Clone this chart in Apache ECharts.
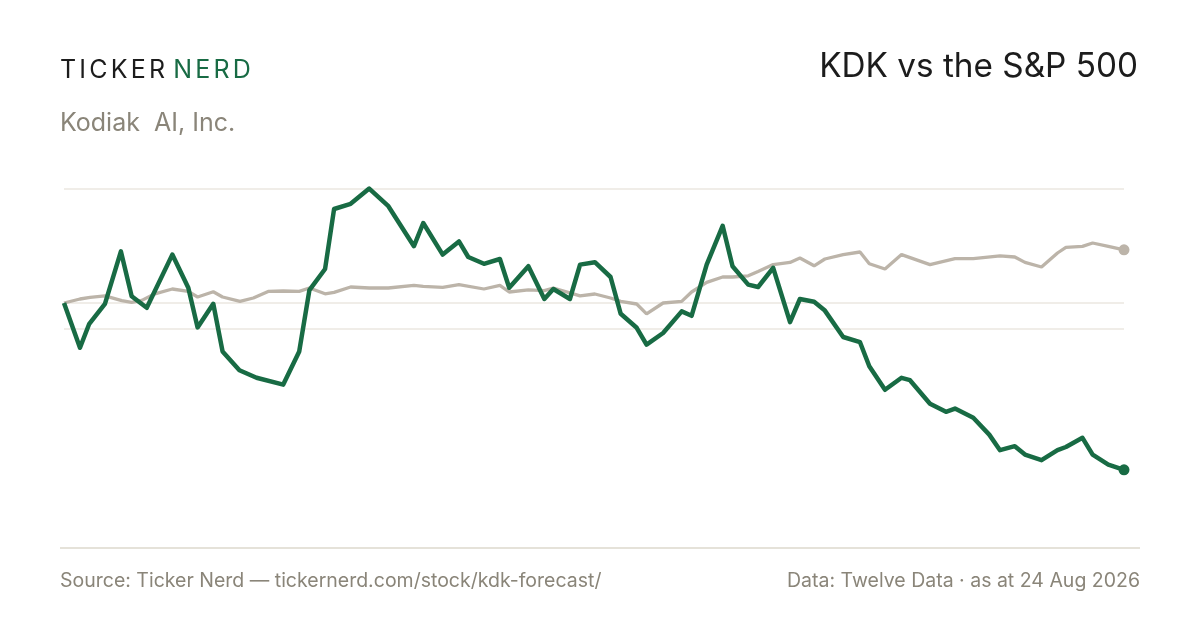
<!DOCTYPE html>
<html>
<head>
<meta charset="utf-8">
<script src="https://cdn.jsdelivr.net/npm/echarts@6/dist/echarts.min.js"></script>
<style>
    html, body { margin: 0; padding: 0; background: #fff; }
    #chart { width: 1200px; height: 630px; }
</style>
</head>
<body>
<div id="chart"></div>
<script>
// days since start, price rebased to 100 on day 0
var kdkDays = [0, 5.5, 8.7, 14.1, 19.6, 23.3, 28.5, 37.3, 42.8, 46, 51.4, 54.6, 60.4, 66.3, 75.5,
    81, 84.5, 89.9, 93, 98.7, 105.1, 111.7, 120.5, 123.7, 130.4, 136, 139.2, 144.6, 150.1, 153.3,
    159.9, 165.4, 168.5, 174.2, 177.7, 182.8, 188.2, 191.7, 197.2, 200.6, 206.3, 212.7, 216.1, 221.3,
    226.8, 230.2, 235.6, 239, 244.2, 250, 253.4, 258.3, 262, 268.3, 274.1, 277.3, 282.7, 288.4, 291.3,
    298.2, 303.7, 306.8, 313.1, 318.6, 322.3, 327.4, 330.9, 336.6, 342.1, 345, 350.7, 354.2, 359.6, 365];
var kdkIndex = [100, 88.8, 94.8, 99.8, 112.9, 101.7, 98.8, 112.1, 103.8, 93.9, 99.8, 87.9, 83.2, 81.3, 79.6,
    87.9, 103.2, 108.5, 123.5, 124.8, 128.6, 124.2, 114.2, 120.0, 112.1, 115.4, 111.5, 109.8, 111.0, 103.8,
    109.2, 101.0, 103.5, 101.0, 109.6, 110.2, 106.5, 97.3, 93.8, 89.6, 92.5, 97.9, 96.8, 109.6,
    119.3, 109.2, 104.6, 104.0, 108.8, 95.2, 101.0, 100.3, 98.1, 91.5, 90.2, 84.2, 78.3, 81.3, 80.7,
    74.8, 72.8, 73.6, 71.3, 67.1, 63.2, 64.2, 62.1, 60.7, 63.2, 64.0, 66.3, 62.1, 59.6, 58.3];

var spxDays = [0, 5.5, 9, 14.1, 19.9, 23.3, 26.8, 31.3, 37.3, 42.8, 46, 51.4, 54.6, 60.6, 65.2,
    70.3, 75.5, 81, 84.5, 89.9, 93, 98.7, 105.1, 111.7, 120.5, 123.7, 130.4, 136, 144.6, 150.1,
    153.3, 159.9, 165.4, 168.5, 177.7, 182.8, 188.2, 191.7, 197.2, 200.6, 206.3, 212.7, 216.1, 221.3,
    226.8, 230.2, 235.6, 239, 244.2, 250, 253.4, 258.3, 262, 268.3, 274.1, 277.3, 282.7, 288.4,
    298.2, 306.8, 313.1, 322.3, 327.4, 330.9, 336.6, 342.1, 345, 350.7, 354.2, 359.6, 365];
var spxIndex = [100, 101, 101.4, 101.8, 100.6, 100.15, 100.65, 102.3, 103.5, 102.9, 101.5, 102.8, 101.5, 100.4, 101.25,
    102.9, 103, 102.9, 103.75, 102.3, 102.65, 104, 103.75, 103.75, 104.4, 104.15, 103.9, 104.6, 103.5, 104.4,
    102.75, 103.3, 103.1, 103.75, 101.8, 102.25, 101.25, 100.4, 99.75, 97.3, 100, 100.4, 102.75, 105.15,
    106.5, 106.5, 106.8, 107.9, 109.6, 110.15, 111.25, 109.3, 111, 112.1, 112.75, 109.8, 108.5, 112.1,
    109.6, 111.1, 111.1, 111.8, 111.5, 110.15, 109, 112.5, 113.9, 114.15, 115, 114.15, 113.3];

var gridLevels = [128.5, 100, 93.5];

var GREEN = '#186b44';
var GREY = '#bcb4a9';
var MUTED = '#8a8579';
var FONT = 'Inter, "Liberation Sans", sans-serif';

function pairs(xs, ys) {
    var out = [];
    for (var i = 0; i < xs.length; i++) {
        out.push([xs[i], ys[i]]);
    }
    return out;
}

// zrender has no letterSpacing, so the wordmark is laid out letter by letter
var measureCtx = document.createElement('canvas').getContext('2d');

function brand(x, y) {
    var font = '400 25px ' + FONT;
    measureCtx.font = font;
    var els = [];
    var word = function(str, color) {
        for (var i = 0; i < str.length; i++) {
            els.push({
                type: 'text', x: x, y: y,
                style: { text: str[i], font: font, fill: color, verticalAlign: 'middle' }
            });
            x += measureCtx.measureText(str[i]).width + 3.2;
        }
    };
    word('TICKER', '#1c1c1c');
    x += measureCtx.measureText(' ').width - 2;
    word('NERD', GREEN);
    return els;
}

var chart = echarts.init(document.getElementById('chart'), null, { renderer: 'canvas' });

var graphics = brand(60, 70).concat([
    {
        type: 'text', x: 60, y: 123,
        style: { text: 'Kodiak  AI, Inc.', font: '400 25px ' + FONT, fill: MUTED, verticalAlign: 'middle' }
    },
    {
        type: 'text', x: 1138, y: 67,
        style: { text: 'KDK vs the S&P 500', font: '400 33.3px ' + FONT, fill: '#1c1c1c', align: 'right', verticalAlign: 'middle' }
    },
    {
        type: 'line',
        shape: { x1: 60, y1: 548, x2: 1140, y2: 548 },
        style: { stroke: '#ddd8cc', lineWidth: 1.5 }
    },
    {
        type: 'text', x: 60, y: 581,
        style: { text: 'Source: Ticker Nerd \u2014 tickernerd.com/stock/kdk-forecast/', font: '400 19.5px ' + FONT, fill: MUTED, verticalAlign: 'middle' }
    },
    {
        type: 'text', x: 1140, y: 581,
        style: { text: 'Data: Twelve Data \u00b7 as at 24 Aug 2026', font: '400 19.5px ' + FONT, fill: MUTED, align: 'right', verticalAlign: 'middle' }
    }
]);

var option = {
    animation: false,
    backgroundColor: '#ffffff',
    grid: { left: 64, right: 76, top: 163, bottom: 107 },
    xAxis: {
        type: 'value', min: 0, max: 365,
        show: false
    },
    yAxis: {
        type: 'value', min: 45, max: 135,
        show: false
    },
    graphic: graphics,
    series: [{
        name: 'S&P 500',
        type: 'line',
        data: pairs(spxDays, spxIndex),
        showSymbol: false,
        lineStyle: { color: GREY, width: 3.3 },
        z: 2,
        markLine: {
            silent: true,
            symbol: 'none',
            label: { show: false },
            lineStyle: { color: '#ebe7e0', width: 1.5, type: 'solid' },
            data: gridLevels.map(function(v) { return { yAxis: v }; }),
            z: 1
        }
    }, {
        name: 'KDK',
        type: 'line',
        data: pairs(kdkDays, kdkIndex),
        showSymbol: false,
        lineStyle: { color: GREEN, width: 4.5, join: 'round' },
        z: 3
    }, {
        name: 'last',
        type: 'scatter',
        data: [
            { value: [spxDays[spxDays.length - 1], spxIndex[spxIndex.length - 1]], itemStyle: { color: GREY, opacity: 1 } },
            { value: [kdkDays[kdkDays.length - 1], kdkIndex[kdkIndex.length - 1]], itemStyle: { color: GREEN, opacity: 1 } }
        ],
        symbolSize: 11,
        z: 4
    }]
};

chart.setOption(option);
</script>
</body>
</html>
